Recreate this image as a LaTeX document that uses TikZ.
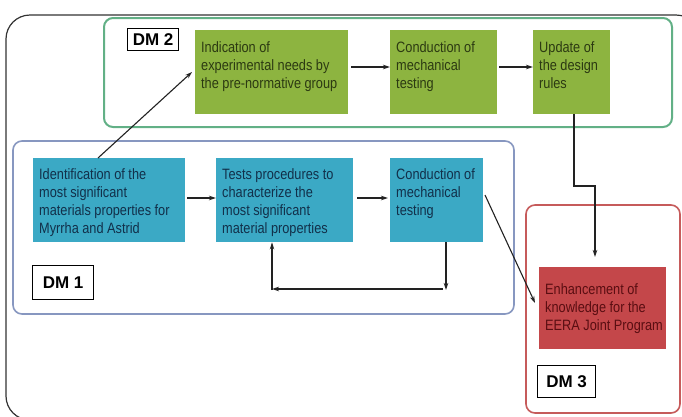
\documentclass[tikz,border=0pt]{standalone}
\usepackage{fontspec}
\usetikzlibrary{arrows.meta}
\newfontfamily\boxfont[FakeStretch=0.85]{Liberation Sans}
\newfontfamily\dmfont{Liberation Sans}
\definecolor{gfill}{HTML}{8DB440}
\definecolor{gtext}{HTML}{2C3A12}
\definecolor{bfill}{HTML}{3BA9C5}
\definecolor{btext}{HTML}{12304A}
\definecolor{rfill}{HTML}{C4474A}
\definecolor{rtext}{HTML}{5A0E12}
\definecolor{gline}{HTML}{62B086}
\definecolor{bline}{HTML}{8797C0}
\definecolor{rline}{HTML}{C65B5B}
\definecolor{fline}{HTML}{333333}
\definecolor{aline}{HTML}{222222}
\newcommand\btxt[4]{\parbox[c][#2][#3]{#1}{#4}}
\newcommand\tl[1]{\hbox to\hsize{#1\hss}}
\tikzset{
  boxbase/.style={anchor=north west, inner xsep=6pt, inner ysep=11pt,
    font=\boxfont\fontsize{15}{18}\selectfont},
  gbox/.style={boxbase, fill=gfill, text=gtext},
  bbox/.style={boxbase, fill=bfill, text=btext},
  rbox/.style={boxbase, fill=rfill, text=rtext},
  dmlabel/.style={anchor=north west, draw=black, line width=1.3pt, fill=white,
    inner sep=0pt, font=\dmfont\bfseries\fontsize{17}{18}\selectfont},
  container/.style={line width=1.6pt, rounded corners=9pt},
  conn/.style={draw=aline, line width=1.1pt, -{Stealth[length=7pt,width=4.5pt]}}
}
\begin{document}
\begin{tikzpicture}[x=1pt,y=-1pt]
\useasboundingbox (0,0) rectangle (682,416);
\fill[white] (0,0) rectangle (682,416);
% outer frame
\draw[fline, line width=1.2pt, rounded corners=24pt] (6,15) rectangle (700,420);
% containers
\draw[container, draw=gline, line width=2pt] (104,18) rectangle (672,127);
\draw[container, draw=bline] (13,141) rectangle (514,314);
\draw[container, draw=rline] (526,205) rectangle (680,413);
% labels
\node[dmlabel, minimum width=51pt, minimum height=22pt] (dm2) at (127,28) {DM 2};
\node[dmlabel, minimum width=61pt, minimum height=34pt] (dm1) at (32,265) {DM 1};
\node[dmlabel, minimum width=58pt, minimum height=32pt] (dm3) at (537,365) {DM 3};
% green boxes
\node[gbox] (g1) at (195,30) {\btxt{141pt}{62pt}{t}{\tl{Indication of}\tl{experimental needs by}\tl{the pre-normative group}}};
\node[gbox] (g2) at (390,30) {\btxt{95pt}{62pt}{t}{\tl{Conduction of}\tl{mechanical}\tl{testing}}};
\node[gbox] (g3) at (533,30) {\btxt{65pt}{62pt}{t}{\tl{Update of}\tl{the design}\tl{rules}}};
% blue boxes
\node[bbox, inner ysep=10pt] (b1) at (33,158) {\btxt{140pt}{64pt}{t}{\tl{Identification of the}\tl{most significant}\tl{materials properties for}\tl{Myrrha and Astrid}}};
\node[bbox, inner ysep=10pt] (b2) at (216,158) {\btxt{125pt}{64pt}{t}{\tl{Tests procedures to}\tl{characterize the}\tl{most significant}\tl{material properties}}};
\node[bbox, inner ysep=10pt] (b3) at (390,158) {\btxt{81pt}{64pt}{t}{\tl{Conduction of}\tl{mechanical}\tl{testing}}};
% red box
\node[rbox] (r1) at (539,267) {\btxt{115pt}{60pt}{c}{\tl{Enhancement of}\tl{knowledge for the}\tl{EERA Joint Program}}};
% coordinates
\coordinate (a1s) at (98,158);
\coordinate (a1e) at (192,72);
\coordinate (u1) at (574,186);
\coordinate (u2) at (595,186);
\coordinate (u3) at (595,257);
\coordinate (c1) at (446,289);
\coordinate (c2) at (272,289);
\coordinate (d1) at (485,195);
\coordinate (d2) at (535,303);
% connectors
\draw[conn] (a1s) -- (a1e);
\draw[conn] ([xshift=3pt]g1.east |- 0,67) -- (g2.west |- 0,67);
\draw[conn] ([xshift=2pt]g2.east |- 0,67) -- (g3.west |- 0,67);
\draw[conn] ([xshift=2pt]b1.east |- 0,198) -- (b2.west |- 0,198);
\draw[conn] ([xshift=4pt]b2.east |- 0,198) -- ([xshift=-2pt]b3.west |- 0,198);
\draw[conn] (g3.south -| u1) -- (u1) -- (u2) -- (u3);
\draw[conn] (b3.south -| c1) -- ([yshift=-1pt]c1);
\draw[conn] ([xshift=-3pt]c1) -- (c2);
\draw[conn] ([yshift=-1pt]c2) -- (b2.south -| c2);
\draw[conn] (d1) -- (d2);
\end{tikzpicture}
\end{document}
